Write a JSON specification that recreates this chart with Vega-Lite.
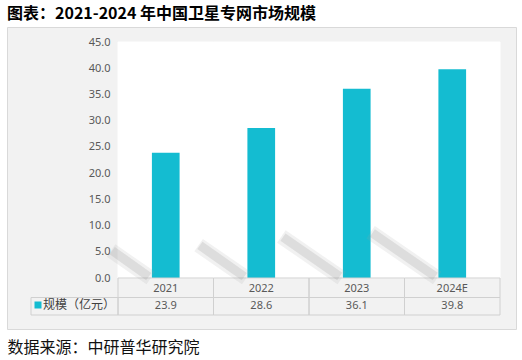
{
  "$schema": "https://vega.github.io/schema/vega-lite/v6.json",
  "width": 509,
  "height": 302,
  "autosize": {"type": "none"},
  "padding": {"left": 7, "top": 27, "right": 6, "bottom": 31},
  "background": "white",
  "config": {
    "view": {"fill": "#F2F2F2", "stroke": "#D9D9D9", "strokeWidth": 1},
    "font": "Noto Sans"
  },
  "title": {
    "text": "图表：2021-2024 年中国卫星专网市场规模",
    "anchor": "start",
    "frame": "group",
    "offset": 5,
    "fontSize": 16,
    "fontWeight": "bold",
    "font": "Noto Sans CJK SC",
    "color": "#000000"
  },
  "data": {
    "values": [
      {"year": "2021", "value": 23.9, "series": "规模（亿元）"},
      {"year": "2022", "value": 28.6, "series": "规模（亿元）"},
      {"year": "2023", "value": 36.1, "series": "规模（亿元）"},
      {"year": "2024E", "value": 39.8, "series": "规模（亿元）"}
    ]
  },
  "resolve": {
    "scale": {"x": "independent", "y": "independent", "xOffset": "independent"},
    "axis": {"x": "independent", "y": "independent"}
  },
  "layer": [
    {
      "layer": [
        {
          "mark": {"type": "rect", "fill": "white", "stroke": "white", "strokeWidth": 1},
          "encoding": {
            "x": {
              "field": "year",
              "type": "nominal",
              "sort": null,
              "scale": {"domain": ["2021", "2022", "2023", "2024E"], "range": [111, 493], "paddingInner": 0, "paddingOuter": 0},
              "axis": {
                "orient": "bottom",
                "offset": -51,
                "domain": false,
                "ticks": false,
                "grid": false,
                "labelAngle": 0,
                "labelPadding": 10,
                "labelBaseline": "middle",
                "labelFontSize": 11,
                "labelColor": "#595959",
                "labelFont": "Noto Sans",
                "title": "数据来源：中研普华研究院",
                "titleX": 0,
                "titleY": 74,
                "titleAlign": "left",
                "titleBaseline": "alphabetic",
                "titleFontSize": 16,
                "titleFontWeight": "normal",
                "titleFont": "Noto Sans CJK SC",
                "titleColor": "#111111"
              }
            },
            "y": {
              "datum": 45,
              "type": "quantitative",
              "scale": {"domain": [0, 45], "range": [251, 15], "nice": false, "zero": false}
            },
            "y2": {"datum": 0}
          }
        },
        {
          "mark": {"type": "bar", "width": {"band": 0.29}},
          "encoding": {
            "x": {"field": "year", "type": "nominal", "sort": null},
            "y": {
              "field": "value",
              "type": "quantitative",
              "axis": {
                "orient": "left",
                "offset": -103,
                "domain": false,
                "ticks": false,
                "grid": false,
                "values": [0, 5, 10, 15, 20, 25, 30, 35, 40, 45],
                "tickCount": 10,
                "labelOverlap": false,
                "format": ".1f",
                "labelPadding": 0,
                "labelFontSize": 11,
                "labelColor": "#595959",
                "labelFont": "Noto Sans",
                "title": null
              }
            },
            "color": {
              "field": "series",
              "type": "nominal",
              "scale": {"range": ["#14BCD1"]},
              "legend": {
                "orient": "none",
                "legendX": 25,
                "legendY": 272,
                "title": null,
                "padding": 0,
                "symbolType": "square",
                "symbolSize": 49,
                "symbolStrokeWidth": 0,
                "labelFontSize": 12,
                "labelFont": "Noto Sans CJK SC",
                "labelColor": "#404040",
                "labelOffset": -1
              }
            }
          }
        },
        {
          "mark": {"type": "rect", "fill": "transparent", "stroke": "#D0D0D0", "strokeWidth": 1},
          "encoding": {
            "x": {"field": "year", "type": "nominal", "sort": null},
            "y": {"datum": 0, "type": "quantitative"},
            "y2": {"datum": -3.72}
          }
        },
        {
          "mark": {"type": "rect", "fill": "transparent", "stroke": "#D0D0D0", "strokeWidth": 1},
          "encoding": {
            "x": {"field": "year", "type": "nominal", "sort": null},
            "y": {"datum": -3.72, "type": "quantitative"},
            "y2": {"datum": -7.06}
          }
        },
        {
          "mark": {"type": "text", "fontSize": 11, "color": "#595959", "font": "Noto Sans"},
          "encoding": {
            "x": {"field": "year", "type": "nominal", "sort": null},
            "y": {"datum": -5.39, "type": "quantitative"},
            "text": {"field": "value", "type": "quantitative", "format": ".1f"}
          }
        }
      ]
    },
    {
      "mark": {"type": "rule", "stroke": "#A0A0A0", "strokeWidth": 15, "opacity": 0.15, "strokeCap": "butt", "x2Offset": -15},
      "encoding": {
        "x": {
          "field": "year",
          "type": "nominal",
          "sort": null,
          "scale": {"domain": ["2021", "2022", "2023", "2024E"], "range": [111, 493], "paddingInner": 0, "paddingOuter": 0},
          "axis": null
        },
        "xOffset": {
          "field": "value",
          "type": "quantitative",
          "scale": {"domain": [0, 45], "range": [33.75, -42.75], "zero": false, "nice": false}
        },
        "x2": {"field": "year"},
        "y": {
          "field": "value",
          "type": "quantitative",
          "scale": {"domain": [0, 45], "range": [251, 199.25], "zero": false, "nice": false},
          "axis": null
        },
        "y2": {"datum": 0}
      }
    },
    {
      "mark": {"type": "rule", "stroke": "#989898", "strokeWidth": 9, "opacity": 0.22, "strokeCap": "butt", "x2Offset": -17},
      "encoding": {
        "x": {
          "field": "year",
          "type": "nominal",
          "sort": null,
          "scale": {"domain": ["2021", "2022", "2023", "2024E"], "range": [111, 493], "paddingInner": 0, "paddingOuter": 0},
          "axis": null
        },
        "xOffset": {
          "field": "value",
          "type": "quantitative",
          "scale": {"domain": [0, 45], "range": [33.75, -40.75], "zero": false, "nice": false}
        },
        "x2": {"field": "year"},
        "y": {
          "field": "value",
          "type": "quantitative",
          "scale": {"domain": [0, 45], "range": [250, 200.25], "zero": false, "nice": false},
          "axis": null
        },
        "y2": {"datum": 0.4}
      }
    },
    {
      "mark": {"type": "rect", "fill": "transparent", "stroke": "#D0D0D0", "strokeWidth": 1},
      "data": {"values": [{"cell": "规模（亿元）"}]},
      "encoding": {
        "x": {
          "field": "cell",
          "type": "nominal",
          "scale": {"domain": ["规模（亿元）"], "range": [24, 111], "paddingInner": 0, "paddingOuter": 0},
          "axis": null
        },
        "y": {
          "datum": -3.72,
          "type": "quantitative",
          "scale": {"domain": [0, 45], "range": [251, 15], "nice": false, "zero": false},
          "axis": null
        },
        "y2": {"datum": -7.06}
      }
    }
  ]
}
